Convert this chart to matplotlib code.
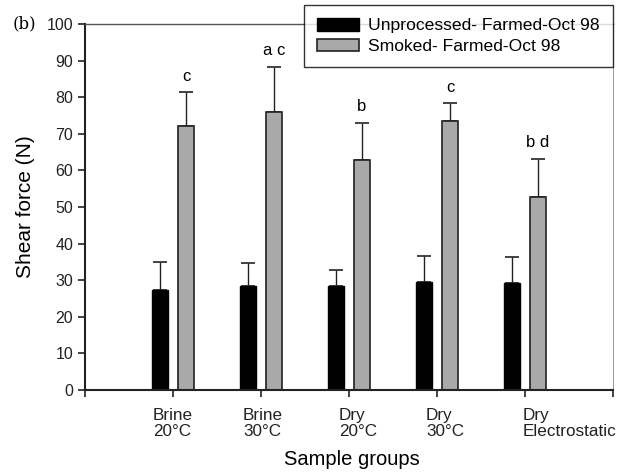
import matplotlib.pyplot as plt
import numpy as np

groups = ["Brine\n20°C", "Brine\n30°C", "Dry\n20°C", "Dry\n30°C", "Dry\nElectrostatic"]
unprocessed = [27.2, 28.4, 28.5, 29.4, 29.1]
unprocessed_err = [7.8, 6.3, 4.4, 7.3, 7.3]
smoked = [72.1, 76.0, 62.9, 73.5, 52.7]
smoked_err = [9.2, 12.3, 10.1, 4.8, 10.5]
letters = ["c", "a c", "b", "c", "b d"]
# how far left of its tick each group label starts (pixels)
label_shift = [-20, -18, -10, -11, -2]

plt.rcParams['font.family'] = ['Liberation Sans', 'DejaVu Sans']

fig = plt.figure(figsize=(6.31, 4.74), dpi=100)
ax = fig.add_axes([0.1347, 0.1772, 0.8368, 0.7722])

x = np.arange(1, len(groups) + 1)
w = 0.18
off = 0.148
ax.bar(x - off, unprocessed, w, color='black', edgecolor='black',
       linewidth=1, label='Unprocessed- Farmed-Oct 98', zorder=2)
ax.bar(x + off, smoked, w, color='#a9a9a9', edgecolor='#222222',
       linewidth=1.2, label='Smoked- Farmed-Oct 98', zorder=2)
ax.errorbar(x - off, unprocessed, yerr=[np.zeros(5), unprocessed_err], fmt='none',
            ecolor='#222222', elinewidth=1, capsize=5, capthick=1.2, zorder=1)
ax.errorbar(x + off, smoked, yerr=[np.zeros(5), smoked_err], fmt='none',
            ecolor='#222222', elinewidth=1, capsize=5, capthick=1.2, zorder=1)

for xi, s, e, t in zip(x, smoked, smoked_err, letters):
    ax.text(xi + off, s + e + 2.3, t, ha='center', va='bottom', fontsize=12)

ax.set_xlim(0, 6)
ax.set_ylim(0, 100)
ax.set_yticks(np.arange(0, 101, 10))
ax.set_xticks(np.arange(0, 7))
ax.set_xticklabels([])
for xi, g, sh in zip(x, groups, label_shift):
    ax.annotate(g, xy=(xi, 0), xycoords=('data', 'axes fraction'),
                xytext=(sh * 0.72, -13), textcoords='offset points',
                ha='left', va='top', fontsize=12.3, linespacing=1.05, color='#222222')
ax.tick_params(axis='both', direction='out', length=5, width=1.2, labelsize=11.5, colors='#222222')
ax.set_ylabel("Shear force (N)", fontsize=15, labelpad=8)
fig.text(0.558, 0.03, "Sample groups", fontsize=14.5, ha='center', va='center')

for side in ['left', 'bottom']:
    ax.spines[side].set_linewidth(1.5)
    ax.spines[side].set_color('#222222')
ax.spines['top'].set_color('#555555')
ax.spines['top'].set_linewidth(1.0)
ax.spines['right'].set_color('#999999')
ax.spines['right'].set_linewidth(0.7)

fig.text(0.02, 0.949, "(b)", family='DejaVu Serif', fontsize=12, va='center')

leg = fig.legend(loc='upper right', bbox_to_anchor=(0.9715, 0.99), fontsize=12.6,
                 frameon=True, fancybox=False, edgecolor='black', handlelength=2.4,
                 handleheight=0.75, handletextpad=0.55, borderpad=0.75,
                 labelspacing=0.3, borderaxespad=0)
leg.get_frame().set_linewidth(1.0)

fig.savefig("out.png", dpi=100)
